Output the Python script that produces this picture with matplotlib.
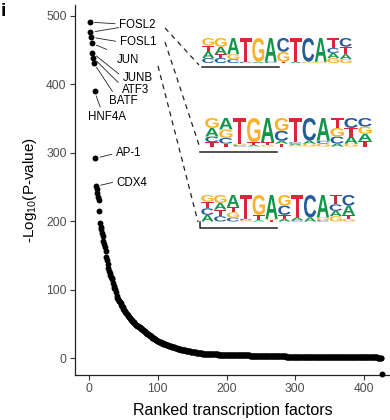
import numpy as np
import matplotlib
matplotlib.use('Agg')
import matplotlib.pyplot as plt
from matplotlib.textpath import TextPath
from matplotlib.font_manager import FontProperties
from matplotlib.patches import PathPatch
from matplotlib.transforms import Affine2D

plt.rcParams['font.family'] = ['Liberation Sans', 'DejaVu Sans']
plt.rcParams['mathtext.fontset'] = 'custom'
plt.rcParams['mathtext.rm'] = 'Liberation Sans'
plt.rcParams['mathtext.it'] = 'Liberation Sans:italic'

# -log10(P) of the ranked transcription factors
pvals = [491, 476, 469, 460, 446, 439, 431, 390, 292, 251,
         247, 241, 236, 231, 215, 198, 192, 188, 183, 178,
         171, 167, 163, 156, 148, 144, 137, 131, 127, 124,
         121, 119, 117, 115, 110, 106, 103, 101, 96, 91,
         88, 86, 84, 83, 82, 80, 78, 76, 74, 72,
         70, 69, 67, 66, 64, 63, 61, 60, 59, 58,
         56, 55, 54, 53, 52, 51, 50, 49, 48, 47.5,
         47, 46, 45.5, 45, 44, 43, 42, 41.5, 41, 40,
         39, 38, 37, 36, 35, 34.5, 34, 33, 32, 31.5,
         31, 30, 29.5, 29, 28, 27.5, 27, 26, 25.5, 25,
         24.5, 24, 23.5, 23, 22.5, 22, 21.5, 21, 20.5, 20,
         19.8, 19.5, 19, 18.7, 18.4, 18, 17.7, 17.4, 17, 16.7,
         16.4, 16, 15.7, 15.4, 15, 14.7, 14.4, 14, 13.7, 13.4,
         13.1, 12.8, 12.5, 12.3, 12.1, 11.9, 11.7, 11.5, 11.3, 11.1,
         10.9, 10.7, 10.5, 10.3, 10.1, 9.9, 9.7, 9.5, 9.3, 9.1,
         8.9, 8.7, 8.5, 8.3, 8.1, 7.9, 7.7, 7.5, 7.3, 7.1,
         7.0, 6.9, 6.8, 6.7, 6.6, 6.5, 6.4, 6.3, 6.2, 6.1,
         6.0, 5.95, 5.9, 5.85, 5.8, 5.75, 5.7, 5.65, 5.6, 5.55,
         5.5, 5.45, 5.4, 5.35, 5.3, 5.25, 5.2, 5.15, 5.1, 5.05,
         5.0, 4.97, 4.94, 4.91, 4.88, 4.85, 4.82, 4.79, 4.76, 4.73,
         4.7, 4.68, 4.66, 4.64, 4.62, 4.6, 4.58, 4.56, 4.54, 4.52,
         4.5, 4.5, 4.4, 4.4, 4.4, 4.3, 4.3, 4.3, 4.2, 4.2,
         4.2, 4.1, 4.1, 4.1, 4.0, 4.0, 4.0, 3.9, 3.9, 3.9,
         3.8, 3.8, 3.8, 3.7, 3.7, 3.7, 3.6, 3.6, 3.6, 3.5,
         3.5, 3.5, 3.4, 3.4, 3.4, 3.3, 3.3, 3.3, 3.2, 3.2,
         3.2, 3.1, 3.1, 3.1, 3.0, 3.0, 3.0, 2.9, 2.9, 2.9,
         2.9, 2.8, 2.8, 2.8, 2.8, 2.7, 2.7, 2.7, 2.7, 2.6,
         2.6, 2.6, 2.6, 2.5, 2.5, 2.5, 2.5, 2.4, 2.4, 2.4,
         2.4, 2.3, 2.3, 2.3, 2.3, 2.3, 2.2, 2.2, 2.2, 2.2,
         2.2, 2.1, 2.1, 2.1, 2.1, 2.1, 2.1, 2.0, 2.0, 2.0,
         2.0, 2.0, 2.0, 2.0, 2.0, 2.0, 2.0, 1.9, 1.9, 1.9,
         1.9, 1.9, 1.9, 1.9, 1.9, 1.9, 1.9, 1.8, 1.8, 1.8,
         1.8, 1.8, 1.8, 1.8, 1.8, 1.8, 1.8, 1.7, 1.7, 1.7,
         1.7, 1.7, 1.7, 1.7, 1.7, 1.7, 1.7, 1.6, 1.6, 1.6,
         1.6, 1.6, 1.6, 1.6, 1.6, 1.6, 1.6, 1.5, 1.5, 1.5,
         1.5, 1.5, 1.5, 1.5, 1.5, 1.5, 1.5, 1.4, 1.4, 1.4,
         1.4, 1.4, 1.4, 1.4, 1.4, 1.4, 1.4, 1.3, 1.3, 1.3,
         1.3, 1.3, 1.3, 1.3, 1.3, 1.3, 1.3, 1.2, 1.2, 1.2,
         1.2, 1.2, 1.2, 1.2, 1.2, 1.2, 1.2, 1.1, 1.1, 1.1,
         1.1, 1.1, 1.1, 1.1, 1.1, 1.1, 1.1, 1.0, 1.0, 1.0,
         1.0, 1.0, 1.0, 1.0, 1.0, 0.9, 0.9, 0.9, 0.9, 0.9,
         0.9, 0.9, 0.9, 0.8, 0.8, 0.8, 0.8, 0.8, 0.8, 0.7,
         0.7, 0.7, 0.7, 0.6, 0.6,
         -23]
ranks = np.arange(1, len(pvals) + 1)

# labelled factors and which rank(s) they point to
tf_names = ['FOSL2', 'FOSL1', 'JUN', 'JUNB', 'ATF3', 'BATF', 'HNF4A', 'AP-1', 'CDX4']
tf_ranks = [1, 3, 4, 5, 6, 7, 8, 9, 10]
extra_rank = 2   # second FOSL2 motif

# motif logos: per column, letters from top to bottom with their share
logo1 = [[('G', .30), ('T', .25), ('A', .25), ('C', .20)],
         [('G', .35), ('A', .30), ('T', .15), ('C', .20)],
         [('A', .65), ('G', .20), ('C', .15)],
         [('T', .95), ('C', .05)],
         [('G', .95), ('A', .05)],
         [('A', .95), ('C', .05)],
         [('C', .55), ('G', .40), ('T', .05)],
         [('T', .95), ('A', .05)],
         [('C', .95), ('G', .05)],
         [('A', .95), ('G', .05)],
         [('T', .40), ('C', .20), ('A', .20), ('G', .20)],
         [('C', .35), ('T', .30), ('A', .20), ('G', .15)]]
logo2 = [[('G', .35), ('A', .30), ('C', .20), ('T', .15)],
         [('A', .40), ('G', .30), ('C', .20), ('T', .10)],
         [('T', .90), ('G', .05), ('C', .05)],
         [('G', .85), ('T', .10), ('A', .05)],
         [('A', .85), ('T', .10), ('G', .05)],
         [('G', .45), ('C', .35), ('A', .10), ('T', .10)],
         [('T', .85), ('C', .05), ('A', .05), ('G', .05)],
         [('C', .80), ('A', .10), ('G', .10)],
         [('A', .80), ('C', .10), ('G', .10)],
         [('T', .35), ('G', .30), ('C', .25), ('A', .10)],
         [('C', .35), ('T', .30), ('A', .25), ('G', .10)],
         [('C', .30), ('G', .25), ('A', .25), ('T', .20)]]
logo3 = [[('G', .25), ('T', .25), ('C', .25), ('A', .25)],
         [('G', .30), ('A', .25), ('T', .25), ('C', .20)],
         [('A', .45), ('T', .20), ('G', .20), ('C', .15)],
         [('T', .90), ('C', .05), ('G', .05)],
         [('G', .75), ('T', .20), ('A', .05)],
         [('A', .90), ('G', .05), ('T', .05)],
         [('G', .40), ('C', .35), ('T', .15), ('A', .10)],
         [('T', .85), ('A', .10), ('C', .05)],
         [('C', .85), ('A', .15)],
         [('A', .85), ('G', .10), ('C', .05)],
         [('T', .35), ('C', .25), ('A', .20), ('G', .20)],
         [('C', .40), ('A', .35), ('T', .15), ('G', .10)]]

base_col = {'A': '#109648', 'C': '#255C99', 'G': '#F7B32B', 'T': '#D62839'}
logo_font = FontProperties(family='Liberation Sans', weight='bold')


def draw_logo(axo, cols, x0, x1, ytop, ybot):
    w = (x1 - x0) / len(cols)
    h = ybot - ytop
    for i, col in enumerate(cols):
        y = ybot
        for letter, p in reversed(col):
            lh = p * h
            tp = TextPath((0, 0), letter, size=1, prop=logo_font)
            ext = tp.get_extents()
            tr = Affine2D().translate(-ext.x0, -ext.y0) \
                .scale(w * 0.96 / ext.width, -lh / ext.height) \
                .translate(x0 + i * w + w * 0.02, y)
            axo.add_patch(PathPatch(tr.transform_path(tp), fc=base_col[letter], ec='none'))
            y -= lh


fig = plt.figure(figsize=(3.9, 4.2), dpi=100)
ax = fig.add_axes([75 / 390, 1 - 375 / 420, 315 / 390, 370 / 420])

ax.scatter(ranks, pvals, s=18, c='black', linewidths=0, zorder=3, clip_on=False)

ax.set_xlim(-20.4, 437.8)
ax.set_ylim(-24.8, 516)
ax.set_xticks([0, 100, 200, 300, 400])
ax.set_yticks([0, 100, 200, 300, 400, 500])
for s in ['top', 'right']:
    ax.spines[s].set_visible(False)
for s in ['left', 'bottom']:
    ax.spines[s].set_linewidth(0.9)
    ax.spines[s].set_color('#222222')
ax.tick_params(length=3.5, width=0.8, color='#333333', labelcolor='#4D4D4D',
               labelsize=8.8, pad=2.5)
ax.set_xlabel('Ranked transcription factors', fontsize=11.5, labelpad=5.5)
ax.set_ylabel('-Log$_{10}$(P-value)', fontsize=11, labelpad=5)

# label positions (text left edge, vertical centre) and where the segment meets the text
lab_xy = [(44, 486.5), (45, 462), (41, 436), (49, 409), (48, 392),
          (29.5, 375), (-1, 352), (39.3, 299.3), (40.3, 256.3)]
lab_rel = [(0, 0.6), (0, 0.5), (0, 1.0), (0, 0.6), (0, 0.8),
           (0.2, 1.0), (0.35, 1.0), (0, 0.5), (0, 0.6)]
lab_shrA = [1, 1, 6, 1, 1, 1, 1, 1, 1]
for name, r, xy, rel, sa in zip(tf_names, tf_ranks, lab_xy, lab_rel, lab_shrA):
    ax.annotate(name, xy=(ranks[r - 1], pvals[r - 1]), xytext=xy, textcoords='data',
                ha='left', va='center', fontsize=8.3, color='black', zorder=4,
                arrowprops=dict(arrowstyle='-', color='#222222', lw=0.6,
                                shrinkA=sa, shrinkB=3.5, relpos=rel))
ax.annotate('', xy=(ranks[extra_rank - 1], pvals[extra_rank - 1]), xytext=(43.3, 483),
            textcoords='data',
            arrowprops=dict(arrowstyle='-', color='#222222', lw=0.6, shrinkA=0, shrinkB=3.5))

# overlay in pixel coordinates for the motif logos and dashed connectors
ov = fig.add_axes([0, 0, 1, 1], zorder=5)
ov.set_xlim(0, 390)
ov.set_ylim(420, 0)
ov.axis('off')
ov.patch.set_alpha(0)

draw_logo(ov, logo1, 202, 352, 38, 63)
draw_logo(ov, logo2, 205, 372, 118, 146.5)
draw_logo(ov, logo3, 201, 355, 195, 221.5)

ov.plot([201.5, 278.5], [66.7, 66.7], color='#222222', lw=1.1)
ov.plot([200, 277], [151.7, 151.7], color='#222222', lw=1.1)
ov.plot([200, 200, 277], [221.5, 227.7, 227.7], color='#222222', lw=1.1)

dash = dict(color='#222222', lw=0.9, ls=(0, (4, 3.5)))
ov.plot([165, 199], [28, 65], **dash)
ov.plot([165, 200], [42, 148], **dash)
ov.plot([158, 198], [66, 222], **dash)

fig.text(1 / 390, 1 - 3 / 420, 'i', ha='left', va='top', fontsize=14, fontweight='bold')

fig.savefig('out.png', dpi=100)
